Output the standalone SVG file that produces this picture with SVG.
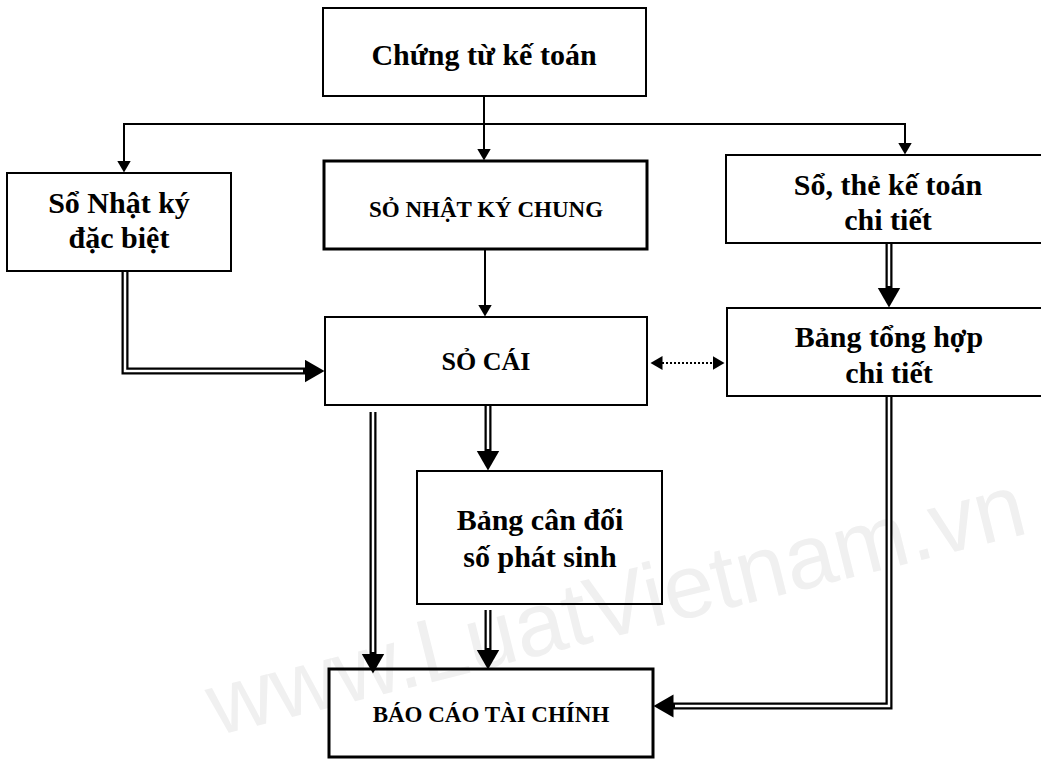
<svg xmlns="http://www.w3.org/2000/svg" width="1041" height="760" viewBox="0 0 1041 760">
  <style>
    .box { fill: none; stroke: #000; stroke-width: 2; }
    .box.thick { stroke-width: 3; }
    .t { font-family: "Liberation Serif", "Times New Roman", serif; font-weight: bold; fill: #000; text-anchor: middle; }
    .big { font-size: 30px; }
    .caps { font-size: 23px; }
    .thin { fill: none; stroke: #000; stroke-width: 2; }
    .dbl-o { fill: none; stroke: #000; stroke-width: 7; stroke-linejoin: miter; }
    .dbl-i { fill: none; stroke: #fff; stroke-width: 2.5; stroke-linejoin: miter; }
    .dot { fill: none; stroke: #000; stroke-width: 2; stroke-dasharray: 2 2; }
    .wm { font-family: "Liberation Sans", Arial, sans-serif; font-size: 90px; fill: #f0f0f0; }
  </style>
  <defs>
    <marker id="ah" markerUnits="userSpaceOnUse" markerWidth="14" markerHeight="14" refX="0.5" refY="7" orient="auto-start-reverse">
      <path d="M0,0 L12,7 L0,14 z" fill="#000"/>
    </marker>
    <marker id="ahb" markerUnits="userSpaceOnUse" markerWidth="22" markerHeight="24" refX="0.5" refY="11.5" orient="auto">
      <path d="M0,0 L20,11.5 L0,23 z" fill="#000"/>
    </marker>
  </defs>
  <rect x="0" y="0" width="1041" height="760" fill="#fff"/>
  <text class="wm" transform="translate(1030,533) rotate(-14)" text-anchor="end">www.LuatVietnam.vn</text>

  <g id="connectors">
    <path class="thin" d="M484,96 V149" marker-end="url(#ah)"/>
    <path class="thin" d="M484,124 H124 V161" marker-end="url(#ah)"/>
    <path class="thin" d="M484,124 H905 V143" marker-end="url(#ah)"/>
    <path class="thin" d="M485,249 V305" marker-end="url(#ah)"/>
    <path class="dot" d="M662,363 H713" marker-start="url(#ah)" marker-end="url(#ah)"/>

    <path class="dbl-o" d="M125,271 V371 H305" marker-end="url(#ahb)"/>
    <path class="dbl-i" d="M125,271 V371 H303"/>

    <path class="dbl-o" d="M889,243 V288" marker-end="url(#ahb)"/>
    <path class="dbl-i" d="M889,243 V286"/>

    <path class="dbl-o" d="M488,405 V451" marker-end="url(#ahb)"/>
    <path class="dbl-i" d="M488,405 V449"/>

    <path class="dbl-o" d="M373,412 V654" marker-end="url(#ahb)"/>
    <path class="dbl-i" d="M373,412 V652"/>

    <path class="dbl-o" d="M488,610 V650" marker-end="url(#ahb)"/>
    <path class="dbl-i" d="M488,610 V648"/>

    <path class="dbl-o" d="M889,396 V706 H673" marker-end="url(#ahb)"/>
    <path class="dbl-i" d="M889,396 V706 H675"/>
  </g>

  <g id="chung-tu">
    <rect class="box" x="323" y="8" width="323" height="88"/>
    <text class="t big" x="484" y="65">Chứng từ kế toán</text>
  </g>
  <g id="nhat-ky-dac-biet">
    <rect class="box" x="7" y="173" width="224" height="98"/>
    <text class="t big" x="119" y="213">Sổ Nhật ký</text>
    <text class="t big" x="119" y="248">đặc biệt</text>
  </g>
  <g id="nhat-ky-chung">
    <rect class="box thick" x="324" y="161" width="323" height="88"/>
    <text class="t caps" x="486" y="217">SỎ NHẬT KÝ CHUNG</text>
  </g>
  <g id="so-the-chi-tiet">
    <rect class="box" x="726" y="155" width="330" height="88"/>
    <text class="t big" x="888" y="195">Sổ, thẻ kế toán</text>
    <text class="t big" x="888" y="230">chi tiết</text>
  </g>
  <g id="so-cai">
    <rect class="box" x="325" y="317" width="322" height="88"/>
    <text class="t" style="font-size:26px" x="486" y="370">SỎ CÁI</text>
  </g>
  <g id="bang-tong-hop">
    <rect class="box" x="727" y="308" width="330" height="88"/>
    <text class="t big" x="889" y="347">Bảng tổng hợp</text>
    <text class="t big" x="889" y="383">chi tiết</text>
  </g>
  <g id="bang-can-doi">
    <rect class="box" x="417" y="471" width="245" height="133"/>
    <text class="t big" x="540" y="530">Bảng cân đối</text>
    <text class="t big" x="540" y="567">số phát sinh</text>
  </g>
  <g id="bao-cao">
    <rect class="box thick" x="329" y="669" width="324" height="88"/>
    <text class="t caps" x="491" y="722">BÁO CÁO TÀI CHÍNH</text>
  </g>
</svg>
